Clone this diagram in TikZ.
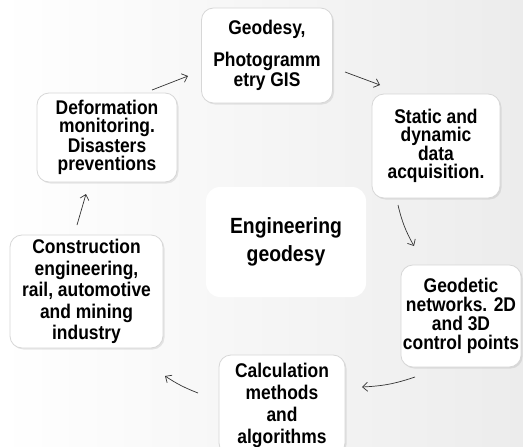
\documentclass[tikz,border=0pt]{standalone}
\usepackage{fontspec}
\setmainfont{Liberation Sans}
\newfontfamily\tallfont{Liberation Sans}[FakeStretch=0.88]
\usepackage{xcolor}
\usepackage{tikz}
\usetikzlibrary{arrows.meta, shadows}
\definecolor{boxedge}{RGB}{215, 215, 215}
\definecolor{bgtint}{RGB}{236, 236, 236}

\begin{document}
\begin{tikzpicture}[
    x=1pt, y=-1pt,
    box_node/.style={draw=boxedge, line width=0.8pt, fill=white, rounded corners=12pt, align=center, inner sep=2pt, font=\tallfont\bfseries\fontsize{19.8}{20}\selectfont, drop shadow={opacity=0.18, shadow xshift=1.5pt, shadow yshift=-1.5pt}},
    arrow/.style={-{Straight Barb[length=5pt, width=9pt]}, line width=0.7pt, black!80}
]
    \useasboundingbox (0,0) rectangle (523,447);
    % Background
    \shade[left color=white, right color=bgtint] (0,0) rectangle (523,447);

    % Central node
    \node[fill=white, rounded corners=14pt, minimum width=160pt, minimum height=110pt, align=center, font=\tallfont\bfseries\fontsize{22}{28}\selectfont] (eng) at (286,242) {Engineering\\geodesy};

    % Cycle nodes
    \node[box_node, minimum width=131pt, minimum height=95pt] (geo) at (267,55.5) {Geodesy,\\[12pt]Photogramm\\etry GIS};
    \node[box_node, minimum width=128pt, minimum height=104pt, font=\tallfont\bfseries\fontsize{19.8}{18.5}\selectfont] (acq) at (436,146) {Static and\\dynamic\\data\\acquisition.};
    \node[box_node, minimum width=118pt, minimum height=102pt, font=\tallfont\bfseries\fontsize{19.8}{19}\selectfont] (net) at (461,316) {Geodetic\\networks. 2D\\and 3D\\control points};
    \node[box_node, minimum width=126pt, minimum height=100pt, font=\tallfont\bfseries\fontsize{19.8}{22}\selectfont] (calc) at (282,405) {Calculation\\methods\\and\\algorithms};
    \node[box_node, minimum width=153pt, minimum height=113pt, font=\tallfont\bfseries\fontsize{19.8}{21.5}\selectfont] (constr) at (86.5,291.5) {Construction\\engineering,\\rail, automotive\\and mining\\industry};
    \node[box_node, minimum width=140pt, minimum height=89pt, font=\tallfont\bfseries\fontsize{19.8}{18}\selectfont] (deform) at (107,137.5) {Deformation\\monitoring.\\Disasters\\preventions};

    % Arrow ends
    \coordinate (a1s) at (152,90);  \coordinate (a1e) at (188,76);
    \coordinate (a2s) at (345,72);  \coordinate (a2e) at (380,85);
    \coordinate (a3s) at (398,205); \coordinate (a3e) at (414,246);
    \coordinate (a4s) at (415,377); \coordinate (a4e) at (362,387);
    \coordinate (a5s) at (198,393); \coordinate (a5e) at (165,376);
    \coordinate (a6s) at (77,225);  \coordinate (a6e) at (86,194);

    % Arrows
    \draw[arrow] (a1s) -- (a1e);
    \draw[arrow] (a2s) -- (a2e);
    \draw[arrow] (a3s) to[bend right=8] (a3e);
    \draw[arrow] (a4s) to[bend left=8] (a4e);
    \draw[arrow] (a5s) to[bend left=6] (a5e);
    \draw[arrow] (a6s) -- (a6e);
\end{tikzpicture}
\end{document}
